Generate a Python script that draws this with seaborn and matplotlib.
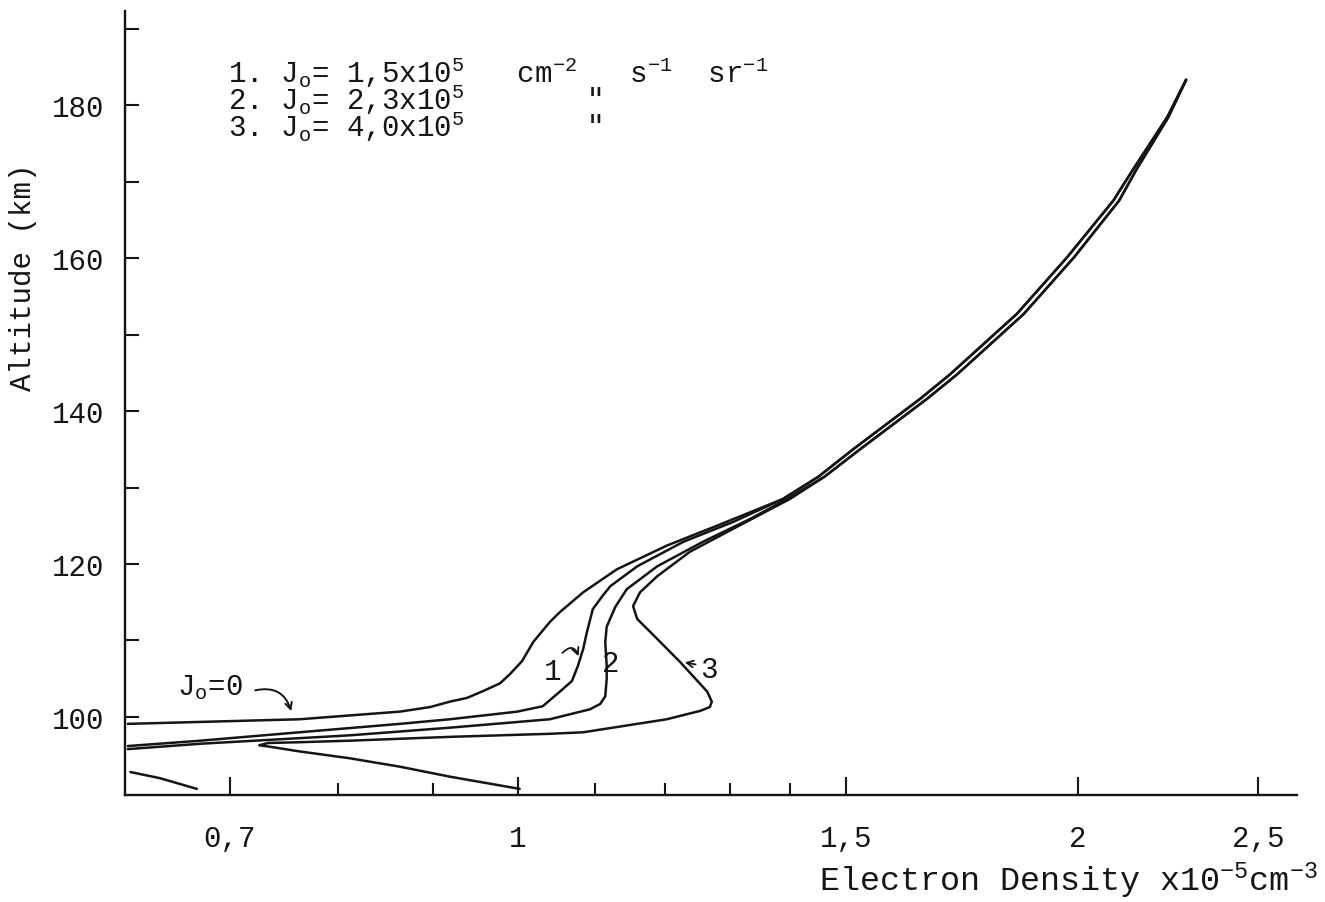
import matplotlib
matplotlib.use("Agg")
import matplotlib.pyplot as plt
import numpy as np
import pandas as pd
import seaborn as sns
from matplotlib.ticker import FixedLocator, FixedFormatter, NullFormatter

# Electron density (x10^5 cm^-3) and altitude (km) along each profile.
# Shared high-altitude branch (J0 = 0 and curve 1 follow the left strand,
# curves 2 and 3 the right strand).
upper_left_density = [1.450, 1.514, 1.645, 1.707, 1.854, 1.973, 2.089, 2.141, 2.233, 2.286]
upper_right_density = [1.461, 1.527, 1.659, 1.722, 1.870, 1.990, 2.104, 2.150, 2.236, 2.286]
upper_altitude = [131.4, 135.0, 141.6, 144.8, 152.7, 160.1, 167.5, 171.6, 178.4, 183.3]

j0_density = [0.617, 0.763, 0.864, 0.897, 0.919, 0.939, 0.958, 0.978, 0.990,
              1.005, 1.019, 1.040, 1.053, 1.084, 1.130, 1.202, 1.279, 1.388]
j0_altitude = [99.1, 99.7, 100.7, 101.3, 102.0, 102.5, 103.4, 104.4, 105.6,
               107.3, 109.8, 112.4, 113.7, 116.3, 119.3, 122.4, 125.0, 128.5]

c1_density = [0.617, 0.675, 0.763, 0.864, 0.919, 0.999, 1.031, 1.053, 1.069,
              1.077, 1.084, 1.089, 1.097, 1.110, 1.121, 1.159, 1.227, 1.305, 1.388]
c1_altitude = [96.2, 96.9, 98.0, 99.1, 99.7, 100.7, 101.4, 103.3, 104.7,
               106.7, 108.9, 111.1, 114.1, 115.8, 117.1, 119.7, 122.9, 125.5, 128.5]

c2_density = [0.617, 0.675, 0.812, 0.919, 1.040, 1.093, 1.107, 1.114, 1.116,
              1.116, 1.114, 1.116, 1.128, 1.144, 1.188, 1.257, 1.333, 1.395]
c2_altitude = [95.8, 96.5, 97.6, 98.6, 99.7, 101.0, 101.7, 102.7, 105.0,
               106.7, 109.8, 111.8, 114.4, 116.7, 119.7, 122.9, 125.9, 128.5]

c3_density = [1.002, 0.919, 0.864, 0.812, 0.763, 0.736, 0.726, 0.734, 0.763,
              0.812, 0.919, 1.040, 1.084, 1.202, 1.253, 1.268, 1.271, 1.264,
              1.222, 1.178, 1.159, 1.153, 1.163, 1.188, 1.237, 1.305, 1.400]
c3_altitude = [90.6, 92.2, 93.5, 94.6, 95.5, 96.1, 96.3, 96.6, 96.7,
               96.9, 97.4, 97.8, 98.0, 99.7, 100.8, 101.3, 102.0, 103.3,
               107.2, 111.1, 112.8, 114.5, 116.3, 118.4, 121.6, 124.6, 128.5]

tail_density = [0.619, 0.642, 0.672]
tail_altitude = [92.8, 92.0, 90.6]

x_major = [0.7, 1.0, 1.5, 2.0, 2.5]
x_major_labels = ["0,7", "1", "1,5", "2", "2,5"]
x_minor = [0.8, 0.9, 1.1, 1.2, 1.3, 1.4]
y_major = [100, 120, 140, 160, 180]
y_minor = [110, 130, 150, 170, 190]

profiles = {
    "J0=0": (j0_density + upper_left_density, j0_altitude + upper_altitude),
    "1": (c1_density + upper_left_density, c1_altitude + upper_altitude),
    "2": (c2_density + upper_right_density, c2_altitude + upper_altitude),
    "3": (c3_density + upper_right_density, c3_altitude + upper_altitude),
    "tail": (tail_density, tail_altitude),
}
frames = []
for name, (dens, alt) in profiles.items():
    frames.append(pd.DataFrame({"density": dens, "altitude": alt, "curve": name}))
df = pd.concat(frames, ignore_index=True)

sns.set_theme(style="ticks")
plt.rcParams["font.family"] = ["Liberation Mono", "DejaVu Sans Mono"]
plt.rcParams["mathtext.fontset"] = "custom"
plt.rcParams["mathtext.rm"] = "Liberation Mono"
plt.rcParams["mathtext.it"] = "Liberation Mono"
plt.rcParams["mathtext.bf"] = "Liberation Mono"

ink = "#151515"
fs = 21

fig = plt.figure(figsize=(13.25, 9.03), dpi=100)
fig.patch.set_facecolor("white")
ax = fig.add_axes([0.0943, 0.1185, 0.8845, 0.8682])
ax.set_facecolor("white")

sns.lineplot(data=df, x="density", y="altitude", units="curve", estimator=None,
             sort=False, color=ink, linewidth=1.8, legend=False, ax=ax)

ax.set_xscale("log")
ax.set_xlim(0.6148, 2.622)
ax.set_ylim(89.8, 192.3)

ax.xaxis.set_major_locator(FixedLocator(x_major))
ax.xaxis.set_major_formatter(FixedFormatter(x_major_labels))
ax.xaxis.set_minor_locator(FixedLocator(x_minor))
ax.xaxis.set_minor_formatter(NullFormatter())
ax.yaxis.set_major_locator(FixedLocator(y_major))
ax.yaxis.set_major_formatter(FixedFormatter([str(v) for v in y_major]))
ax.yaxis.set_minor_locator(FixedLocator(y_minor))
ax.yaxis.set_minor_formatter(NullFormatter())

ax.tick_params(axis="both", which="both", direction="in", color=ink,
               labelcolor=ink, labelsize=fs, width=1.5)
ax.tick_params(axis="x", which="major", length=13, pad=21)
ax.tick_params(axis="x", which="minor", length=9)
ax.tick_params(axis="y", which="both", length=10, pad=15)

sns.despine(ax=ax)
for side in ("left", "bottom"):
    ax.spines[side].set_color(ink)
    ax.spines[side].set_linewidth(1.7)

ax.set_xlabel("")
ax.set_ylabel("Altitude (km)", fontsize=fs, color=ink)
ax.yaxis.set_label_coords(-0.075, 0.662)

fig.text(1318 / 1325, 1 - 891 / 903, r"Electron Density x10$^{-5}$cm$^{-3}$",
         ha="right", va="baseline", fontsize=24, color=ink)

# Flux legend block, typed as one block with ditto marks in column
legend_block = "\n".join([
    r"1. J$_\mathrm{o}$= 1,5x10$^5$   cm$^{-2}$   s$^{-1}$  sr$^{-1}$",
    r"2. J$_\mathrm{o}$= 2,3x10$^5$       " + '"',
    r"3. J$_\mathrm{o}$= 4,0x10$^5$       " + '"',
])
fig.text(228 / 1325, 1 - 56 / 903, legend_block, ha="left", va="top",
         fontsize=fs, color=ink, linespacing=0.74)

# Curve labels
ax.text(0.656, 103.0, r"J$_\mathrm{o}$=0", ha="left", va="baseline",
        fontsize=fs, color=ink)
ax.annotate("", xy=(0.756, 100.4), xytext=(0.720, 103.4),
            arrowprops=dict(arrowstyle="->", color=ink, lw=1.4,
                            connectionstyle="arc3,rad=-0.5"))

ax.text(1.044, 106.0, "1", ha="center", va="center", fontsize=fs, color=ink)
ax.annotate("", xy=(1.079, 107.6), xytext=(1.054, 108.1),
            arrowprops=dict(arrowstyle="->", color=ink, lw=1.3,
                            connectionstyle="arc3,rad=-0.9"))

ax.text(1.122, 107.1, "2", ha="center", va="center", fontsize=fs, color=ink)

ax.text(1.267, 106.3, "3", ha="center", va="center", fontsize=fs, color=ink)
ax.annotate("", xy=(1.225, 107.2), xytext=(1.250, 106.8),
            arrowprops=dict(arrowstyle="->", color=ink, lw=1.3))

fig.savefig("out.png", dpi=100, facecolor="white")
